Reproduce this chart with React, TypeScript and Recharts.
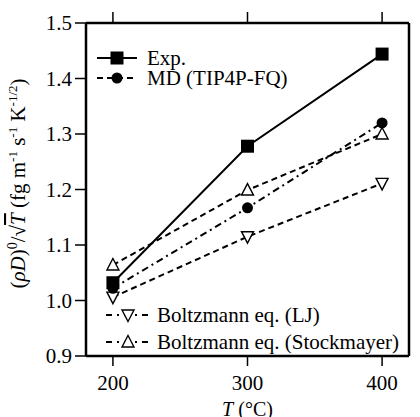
import React from "react";
import { Line, LineChart, XAxis, YAxis } from "recharts";

const temps = [200, 300, 400];
const expVals = [1.032, 1.278, 1.444];
const mdVals = [1.022, 1.167, 1.32];
const ljVals = [1.006, 1.115, 1.211];
const stockVals = [1.064, 1.199, 1.3];
const xTicks = [200, 300, 400];
const yTicks = [0.9, 1.0, 1.1, 1.2, 1.3, 1.4, 1.5];

const data = temps.map((t, i) => ({
  t,
  exp: expVals[i],
  md: mdVals[i],
  lj: ljVals[i],
  stock: stockVals[i],
}));

const FONT = "'Liberation Serif', 'Times New Roman', serif";

const Square = ({ cx, cy }) => (
  <rect x={cx - 6.5} y={cy - 6.5} width={13} height={13} fill="#000" />
);
const Circle = ({ cx, cy }) => <circle cx={cx} cy={cy} r={5.5} fill="#000" />;
const TriUp = ({ cx, cy }) => (
  <path
    d={`M${cx},${cy - 6.5} L${cx + 6},${cy + 5} L${cx - 6},${cy + 5} Z`}
    fill="#fff"
    stroke="#000"
    strokeWidth={1.4}
  />
);
const TriDown = ({ cx, cy }) => (
  <path
    d={`M${cx},${cy + 6.5} L${cx + 6},${cy - 5} L${cx - 6},${cy - 5} Z`}
    fill="#fff"
    stroke="#000"
    strokeWidth={1.4}
  />
);

const noTick = () => <g />;

// legend drawn as an overlay, same spots as the original figure
const LegendBox = () => (
  <svg width={420} height={417} style={{ position: "absolute", left: 0, top: 0, pointerEvents: "none" }}>
    <g fontFamily={FONT} fontSize={21} fill="#000">
      <line x1={97} y1={58} x2={137} y2={58} stroke="#000" strokeWidth={2} />
      <Square cx={117} cy={58} />
      <text x={147} y={65}>Exp.</text>
      <line x1={97} y1={78} x2={137} y2={78} stroke="#000" strokeWidth={2} strokeDasharray="6 4" />
      <Circle cx={117} cy={78} />
      <text x={147} y={85}>MD (TIP4P-FQ)</text>
      <line x1={106} y1={315} x2={152} y2={315} stroke="#000" strokeWidth={2} strokeDasharray="6 5 2 5" />
      <TriDown cx={128} cy={315} />
      <text x={157} y={322}>Boltzmann eq. (LJ)</text>
      <line x1={106} y1={342} x2={152} y2={342} stroke="#000" strokeWidth={2} strokeDasharray="6 5 2 5" />
      <TriUp cx={128} cy={342} />
      <text x={157} y={349}>Boltzmann eq. (Stockmayer)</text>
    </g>
  </svg>
);

const XLabel = ({ viewBox }) => {
  const { x, y, width } = viewBox;
  return (
    <text x={x + width / 2} y={y + 60} textAnchor="middle" fontFamily={FONT} fontSize={20} fill="#000">
      <tspan fontStyle="italic">T</tspan>
      <tspan> (°C)</tspan>
    </text>
  );
};

const YLabel = ({ viewBox }) => {
  const { y, height } = viewBox;
  const cx = 25;
  const cy = y + height / 2 - 6;
  return (
    <text
      transform={`translate(${cx},${cy}) rotate(-90)`}
      textAnchor="middle"
      fontFamily={FONT}
      fontSize={21}
      fill="#000"
    >
      <tspan>(</tspan>
      <tspan fontStyle="italic">ρD</tspan>
      <tspan>)</tspan>
      <tspan dy={-8} fontSize={14}>0</tspan>
      <tspan dy={8}>/√</tspan>
      <tspan fontStyle="italic" textDecoration="overline">T</tspan>
      <tspan>  (fg m</tspan>
      <tspan dy={-8} fontSize={13}>-1</tspan>
      <tspan dy={8}> s</tspan>
      <tspan dy={-8} fontSize={13}>-1</tspan>
      <tspan dy={8}> K</tspan>
      <tspan dy={-8} fontSize={13}>-1/2</tspan>
      <tspan dy={8}>)</tspan>
    </text>
  );
};

const tickStyle = { fontFamily: FONT, fontSize: 21, fill: "#000" };

export default function App() {
  return (
    <div style={{ position: "absolute", left: 0, top: 0, width: 420, height: 417 }}>
      <LineChart width={420} height={417} data={data} margin={{ top: 0, right: 0, bottom: 0, left: 0 }}>
        <XAxis
          xAxisId="bottom"
          dataKey="t"
          type="number"
          domain={[180, 420]}
          ticks={xTicks}
          height={61}
          tickSize={10}
          tickMargin={9}
          tick={tickStyle}
          axisLine={{ stroke: "#000", strokeWidth: 2.5 }}
          tickLine={{ stroke: "#000", strokeWidth: 1.5 }}
          label={<XLabel />}
        />
        <XAxis
          xAxisId="top"
          orientation="top"
          dataKey="t"
          type="number"
          domain={[180, 420]}
          ticks={xTicks}
          height={23}
          tickSize={11}
          tick={noTick}
          axisLine={{ stroke: "#000", strokeWidth: 2.5 }}
          tickLine={{ stroke: "#000", strokeWidth: 1.5 }}
        />
        <YAxis
          yAxisId="left"
          type="number"
          domain={[0.9, 1.5]}
          ticks={yTicks}
          width={86}
          tickSize={11}
          tickMargin={3}
          tick={tickStyle}
          tickFormatter={(v) => v.toFixed(1)}
          axisLine={{ stroke: "#000", strokeWidth: 2.5 }}
          tickLine={{ stroke: "#000", strokeWidth: 1.5 }}
          label={<YLabel />}
        />
        <YAxis
          yAxisId="right"
          orientation="right"
          type="number"
          domain={[0.9, 1.5]}
          ticks={yTicks}
          width={11}
          tickSize={11}
          tick={noTick}
          axisLine={{ stroke: "#000", strokeWidth: 2.5 }}
          tickLine={{ stroke: "#000", strokeWidth: 1.5 }}
        />
        <Line
          xAxisId="bottom"
          yAxisId="left"
          dataKey="lj"
          stroke="#000"
          strokeWidth={2}
          strokeDasharray="6 4"
          dot={(p) => <TriDown key={p.index} cx={p.cx} cy={p.cy} />}
          isAnimationActive={false}
        />
        <Line
          xAxisId="bottom"
          yAxisId="left"
          dataKey="stock"
          stroke="#000"
          strokeWidth={2}
          strokeDasharray="6 4"
          dot={(p) => <TriUp key={p.index} cx={p.cx} cy={p.cy} />}
          isAnimationActive={false}
        />
        <Line
          xAxisId="bottom"
          yAxisId="left"
          dataKey="md"
          stroke="#000"
          strokeWidth={2}
          strokeDasharray="7 4 2 4"
          dot={(p) => <Circle key={p.index} cx={p.cx} cy={p.cy} />}
          isAnimationActive={false}
        />
        <Line
          xAxisId="bottom"
          yAxisId="left"
          dataKey="exp"
          stroke="#000"
          strokeWidth={2}
          dot={(p) => <Square key={p.index} cx={p.cx} cy={p.cy} />}
          isAnimationActive={false}
        />
      </LineChart>
      <LegendBox />
    </div>
  );
}
